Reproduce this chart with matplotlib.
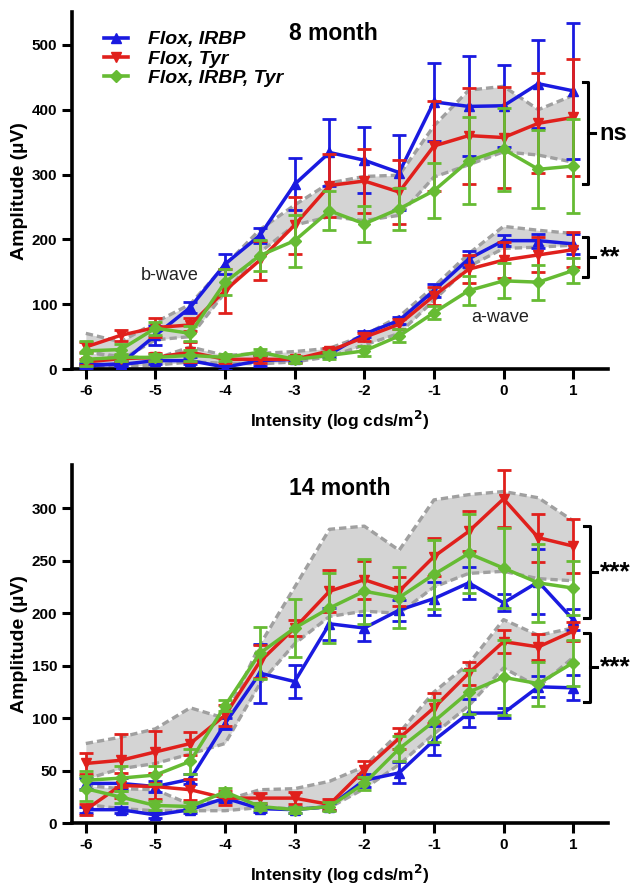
import matplotlib
matplotlib.use("Agg")
import matplotlib.pyplot as plt
from matplotlib.lines import Line2D
import numpy as np

plt.rcParams['font.family'] = ['Liberation Sans', 'DejaVu Sans']

intensity = [-6, -5.5, -5, -4.5, -4, -3.5, -3, -2.5, -2, -1.5, -1, -0.5, 0, 0.5, 1]
series_names = ["Flox, IRBP", "Flox, Tyr", "Flox, IRBP, Tyr"]

# ---- 8 month ----
b8_irbp = [5, 8, 52, 95, 162, 206, 285, 334, 322, 303, 412, 405, 406, 440, 429]
b8_irbp_err = [3, 4, 15, 8, 16, 12, 40, 52, 51, 58, 60, 77, 63, 68, 105]
b8_tyr = [34, 52, 64, 68, 121, 168, 222, 283, 290, 273, 344, 360, 357, 379, 388]
b8_tyr_err = [8, 8, 15, 10, 34, 30, 44, 48, 50, 50, 70, 74, 78, 77, 90]
b8_both = [28, 30, 63, 55, 134, 175, 198, 244, 224, 247, 275, 321, 339, 308, 313]
b8_both_err = [15, 8, 10, 12, 20, 24, 40, 30, 28, 32, 42, 67, 64, 60, 72]
b8_band_hi = [55, 42, 72, 100, 160, 215, 253, 287, 297, 299, 375, 430, 436, 400, 422]
b8_band_lo = [30, 14, 45, 50, 118, 180, 222, 235, 229, 237, 296, 315, 335, 330, 319]

a8_irbp = [7, 7, 13, 13, 3, 13, 15, 23, 54, 75, 121, 170, 198, 198, 193]
a8_irbp_err = [3, 3, 5, 5, 4, 8, 4, 4, 5, 5, 10, 12, 9, 11, 15]
a8_tyr = [11, 16, 18, 26, 15, 15, 15, 28, 49, 69, 113, 154, 168, 176, 184]
a8_tyr_err = [5, 4, 6, 15, 5, 5, 5, 5, 6, 8, 14, 22, 28, 27, 27]
a8_both = [15, 18, 18, 21, 18, 26, 15, 21, 28, 51, 87, 121, 136, 134, 152]
a8_both_err = [10, 5, 5, 8, 5, 5, 5, 5, 8, 10, 10, 22, 27, 27, 20]
a8_band_hi = [25, 20, 16, 34, 21, 24, 27, 32, 52, 81, 127, 178, 220, 214, 209]
a8_band_lo = [5, 5, 6, 11, 9, 8, 11, 19, 37, 55, 106, 158, 186, 188, 191]

# ---- 14 month ----
b14_irbp = [38, 38, 35, 42, 95, 143, 135, 190, 186, 203, 214, 229, 210, 230, 194]
b14_irbp_err = [5, 5, 5, 5, 5, 28, 16, 15, 12, 10, 16, 15, 8, 31, 10]
b14_tyr = [57, 60, 68, 76, 103, 154, 186, 221, 232, 221, 254, 278, 309, 272, 264]
b14_tyr_err = [10, 25, 20, 11, 10, 16, 8, 20, 18, 14, 18, 19, 27, 23, 26]
b14_both = [41, 43, 46, 59, 112, 162, 186, 205, 221, 215, 237, 257, 243, 229, 224]
b14_both_err = [9, 12, 9, 12, 5, 25, 28, 33, 31, 29, 33, 38, 38, 37, 26]
b14_band_hi = [76, 82, 90, 110, 100, 170, 225, 280, 283, 260, 308, 313, 316, 310, 288]
b14_band_lo = [42, 52, 57, 66, 76, 133, 171, 197, 202, 200, 225, 238, 240, 233, 231]

a14_irbp = [13, 13, 8, 13, 24, 14, 13, 16, 41, 48, 79, 105, 105, 130, 129]
a14_irbp_err = [3, 3, 3, 3, 4, 3, 3, 3, 6, 10, 14, 13, 5, 10, 12]
a14_tyr = [13, 36, 35, 32, 24, 24, 24, 18, 51, 81, 110, 143, 173, 168, 183]
a14_tyr_err = [5, 12, 12, 10, 7, 5, 6, 5, 8, 10, 14, 11, 11, 12, 9]
a14_both = [33, 25, 17, 16, 30, 16, 13, 16, 38, 71, 97, 125, 139, 133, 153]
a14_both_err = [12, 6, 4, 4, 4, 3, 3, 4, 6, 12, 20, 21, 36, 21, 22]
a14_band_hi = [36, 33, 32, 18, 22, 32, 33, 40, 54, 86, 125, 152, 194, 179, 186]
a14_band_lo = [18, 14, 12, 12, 12, 15, 14, 15, 33, 56, 85, 112, 148, 130, 158]

colors = ['#1a1ae0', '#e0201c', '#66bb33']
markers = ['^', 'v', 'D']
msizes = [7.5, 7.5, 6.5]

fig = plt.figure(figsize=(6.42, 8.85), dpi=100)
ax1 = fig.add_axes([0.112, 0.583, 0.835, 0.403])
ax2 = fig.add_axes([0.112, 0.0697, 0.835, 0.4046])


def band(ax, lo, hi):
    ax.fill_between(intensity, lo, hi, color='#d4d4d4', lw=0, zorder=1)
    for v in (lo, hi):
        ax.plot(intensity, v, color='#a0a0a0', lw=2.4, ls=(0, (2.2, 1.2)), zorder=2)


def curves(ax, vals, errs):
    for i in range(3):
        ax.errorbar(intensity, vals[i], yerr=errs[i], color=colors[i], lw=2.5,
                    marker=markers[i], ms=msizes[i], capsize=5, capthick=2,
                    elinewidth=2, zorder=3 + i)


def style(ax, ymax, yticks):
    ax.set_xlim(-6.2, 1.5)
    ax.set_ylim(0, ymax)
    for s in ('top', 'right'):
        ax.spines[s].set_visible(False)
    for s in ('left', 'bottom'):
        ax.spines[s].set_linewidth(2.6)
    ax.set_xticks(intensity[::2])
    ax.set_xticklabels([str(int(v)) for v in intensity[::2]])
    ax.set_yticks(yticks)
    ax.tick_params(width=2.2, length=7, labelsize=11, direction='out')
    for lab in ax.get_xticklabels() + ax.get_yticklabels():
        lab.set_fontweight('bold')
    ax.set_xlabel('Intensity (log cds/m$^\\mathbf{2}$)', fontsize=12.5, fontweight='bold', labelpad=8)
    ax.set_ylabel('Amplitude (\u00b5V)', fontsize=14, fontweight='bold', labelpad=3)


def bracket(ax, x, y0, y1, label, tx, fs):
    ax.plot([x - 0.08, x, x, x - 0.08], [y1, y1, y0, y0], color='black', lw=2.2,
            clip_on=False, zorder=10)
    ym = (y0 + y1) / 2
    ax.plot([x, x + 0.1], [ym, ym], color='black', lw=2.2, clip_on=False, zorder=10)
    ax.text(tx, ym, label, fontsize=fs, fontweight='bold', va='center', ha='left',
            clip_on=False)


# Top panel
band(ax1, b8_band_lo, b8_band_hi)
band(ax1, a8_band_lo, a8_band_hi)
curves(ax1, [a8_irbp, a8_tyr, a8_both], [a8_irbp_err, a8_tyr_err, a8_both_err])
curves(ax1, [b8_irbp, b8_tyr, b8_both], [b8_irbp_err, b8_tyr_err, b8_both_err])
style(ax1, 550, [0, 100, 200, 300, 400, 500])
ax1.text(0.487, 0.94, '8 month', transform=ax1.transAxes, ha='center', va='center',
         fontsize=16.5, fontweight='bold')
ax1.text(-4.8, 145, 'b-wave', fontsize=13, ha='center', va='center', color='#222222')
ax1.text(-0.05, 79, 'a-wave', fontsize=13, ha='center', va='center', color='#222222')
bracket(ax1, 1.22, 286, 442, 'ns', 1.37, 17)
bracket(ax1, 1.22, 142, 204, '**', 1.39, 19)

handles = [Line2D([0], [0], color=colors[i], lw=2.6, marker=markers[i], ms=msizes[i])
           for i in range(3)]
leg = ax1.legend(handles, series_names, loc='upper left', bbox_to_anchor=(0.045, 0.97),
                 frameon=False, handlelength=1.25, handletextpad=1.0, labelspacing=0.08,
                 borderaxespad=0.0,
                 prop={'size': 14, 'weight': 'bold', 'style': 'italic'})

# Bottom panel
band(ax2, b14_band_lo, b14_band_hi)
band(ax2, a14_band_lo, a14_band_hi)
curves(ax2, [a14_irbp, a14_tyr, a14_both], [a14_irbp_err, a14_tyr_err, a14_both_err])
curves(ax2, [b14_irbp, b14_tyr, b14_both], [b14_irbp_err, b14_tyr_err, b14_both_err])
style(ax2, 341, [0, 50, 100, 150, 200, 250, 300])
ax2.text(0.50, 0.936, '14 month', transform=ax2.transAxes, ha='center', va='center',
         fontsize=16.5, fontweight='bold')
bracket(ax2, 1.24, 196, 283, '***', 1.39, 19)
bracket(ax2, 1.24, 116, 181, '***', 1.39, 19)

fig.savefig('out.png', dpi=100)
